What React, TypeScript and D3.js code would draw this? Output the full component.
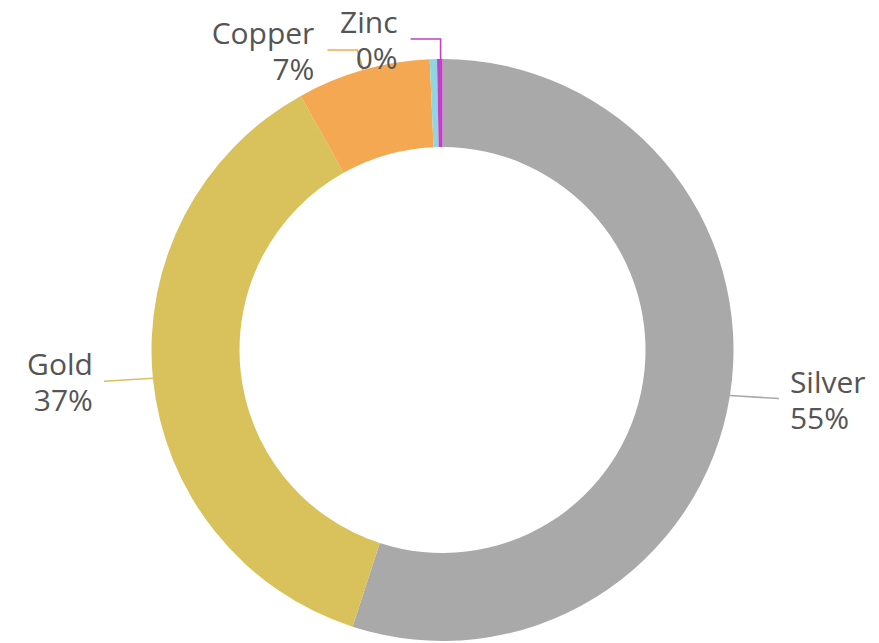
import { useEffect, useRef } from "react";
import * as d3 from "d3";

const categories = ["Silver", "Gold", "Copper", "Other", "Zinc"];
const values = [55.0, 36.9, 7.4, 0.4, 0.3];
const colors = ["#a9a9a9", "#d9c15b", "#f5a852", "#8fd5e6", "#c23fc6"];
const showLabel = [true, true, true, false, true];

export default function App() {
  const ref = useRef<SVGSVGElement | null>(null);

  useEffect(() => {
    const width = 879;
    const height = 643;
    const cx = 442.5;
    const cy = 350;
    const outerR = 291;
    const innerR = 203;

    const svg = d3.select(ref.current);
    svg.selectAll("*").remove();
    svg.attr("width", width).attr("height", height);

    const data = categories.map((name, i) => ({
      name,
      value: values[i],
      color: colors[i],
      label: showLabel[i],
    }));
    const total = d3.sum(values);

    const pie = d3
      .pie<(typeof data)[number]>()
      .sort(null)
      .value((d) => d.value);
    const arc = d3
      .arc<d3.PieArcDatum<(typeof data)[number]>>()
      .innerRadius(innerR)
      .outerRadius(outerR);

    const chart = svg.append("g").attr("transform", `translate(${cx},${cy})`);
    const arcs = pie(data);

    chart
      .selectAll("path")
      .data(arcs)
      .join("path")
      .attr("d", arc)
      .attr("fill", (d) => d.data.color);

    // leader lines + labels
    const point = (r: number, a: number) => [r * Math.sin(a), -r * Math.cos(a)];
    const labels = svg.append("g").attr("transform", `translate(${cx},${cy})`);
    let topStack = 0;

    arcs
      .filter((d) => d.data.label)
      .forEach((d) => {
        const mid = (d.startAngle + d.endAngle) / 2;
        const thin = (d.endAngle - d.startAngle) * outerR < 8;
        const nearTop = Math.abs(Math.sin(mid)) < 0.5 && Math.cos(mid) > 0;
        const p0 = point(thin ? innerR : outerR, mid);
        const pts: number[][] = [p0];
        let anchorX: number;
        let anchorY: number;
        let side: "start" | "end";

        if (nearTop) {
          const elbowY = -outerR - 9 - 11 * topStack;
          const t = (elbowY - p0[1]) / -Math.cos(mid);
          const ex = thin ? p0[0] : p0[0] + Math.sin(mid) * t;
          pts.push([ex, elbowY], [ex - 30, elbowY]);
          anchorX = ex - 43;
          anchorY = elbowY;
          side = "end";
          topStack = topStack === 0 ? 1 : topStack;
        } else {
          const dir = Math.sin(mid) > 0 ? 1 : -1;
          pts.push([p0[0] + dir * 49, p0[1] + 3]);
          anchorX = p0[0] + dir * 60;
          anchorY = p0[1] + 3;
          side = dir > 0 ? "start" : "end";
        }

        labels
          .append("path")
          .attr("d", d3.line()(pts as [number, number][]))
          .attr("fill", "none")
          .attr("stroke", d.data.color)
          .attr("stroke-width", 1.6);

        const text = labels
          .append("text")
          .attr("text-anchor", side)
          .attr("fill", "#555")
          .style("font-family", "'Open Sans', sans-serif")
          .style("font-size", "30px");
        text.append("tspan").attr("x", anchorX).attr("y", anchorY - 6).text(d.data.name);
        text
          .append("tspan")
          .attr("x", anchorX)
          .attr("y", anchorY + 30)
          .text(`${Math.round((d.data.value / total) * 100)}%`);
      });
  }, []);

  return (
    <svg
      ref={ref}
      style={{ position: "absolute", left: 0, top: 0 }}
      role="img"
      aria-label="Donut chart of metals share"
    />
  );
}
